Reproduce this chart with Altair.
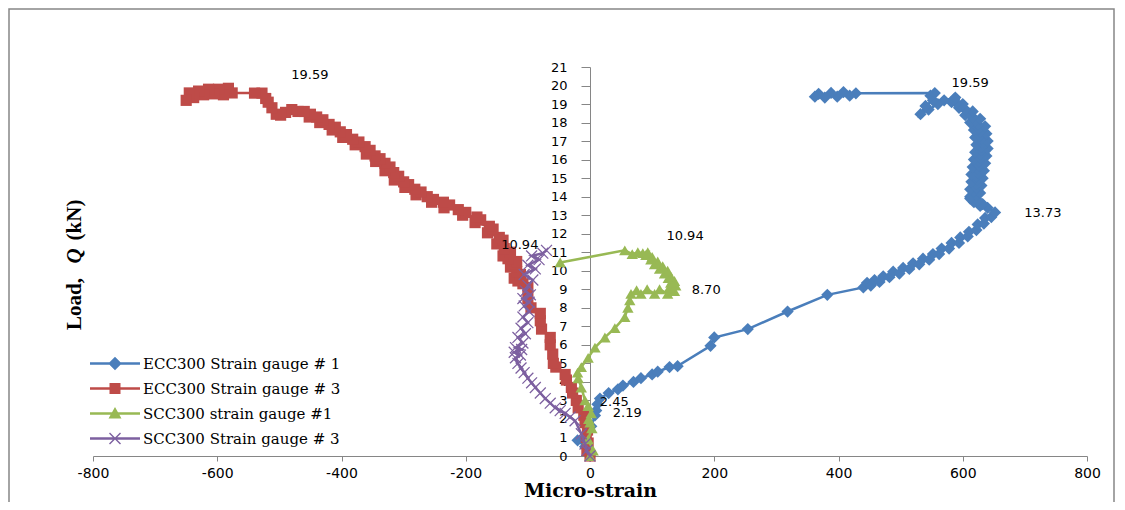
import altair as alt
import pandas as pd

# ---------------- data ----------------
series_names = ["ECC300 Strain gauge # 1", "ECC300 Strain gauge # 3",
                "SCC300 strain gauge #1", "SCC300 Strain gauge # 3"]
line_colors = ["#4A7EBB", "#BE4B48", "#98B954", "#7D60A0"]

# ECC300 strain gauge #1 (blue diamonds)
blue_x = [0, -8, -20, 2, 8, 10, 12, 16, 30, 45, 53, 70, 82, 100, 109, 128, 141, 194, 200, 254, 318, 382,
          440, 446, 452, 458, 466, 472, 482, 488, 498, 504, 514, 520, 530, 536, 546, 552, 562, 566, 578, 582,
          594, 596, 608, 610, 622, 624, 634, 636, 646, 652,
          640, 628, 632, 618, 624, 612, 612, 622, 628, 618, 612, 622, 630, 622, 614, 624, 632, 622, 614, 624,
          634, 624, 616, 626, 636, 626, 618, 628, 638, 628, 620, 630, 640, 630, 622, 632, 640, 630, 620, 628,
          638, 628, 618, 626, 636, 624, 612, 620, 628, 616, 604, 610, 616, 604, 594, 598, 600, 590, 582, 586,
          588, 570, 560, 545, 532, 540, 552, 548, 555,
          428, 418, 408, 398, 388, 378, 368, 362]
blue_y = [0, 0.5, 0.85, 1.6, 2.19, 2.45, 2.8, 3.1, 3.4, 3.6, 3.8, 4.0, 4.2, 4.4, 4.55, 4.8, 4.85, 5.95, 6.4, 6.85, 7.8, 8.7,
          9.1, 9.35, 9.2, 9.5, 9.4, 9.7, 9.65, 9.95, 9.85, 10.15, 10.1, 10.4, 10.35, 10.65, 10.6, 10.9, 10.9, 11.2, 11.2, 11.5,
          11.5, 11.8, 11.85, 12.1, 12.2, 12.5, 12.55, 12.85, 12.9, 13.15,
          13.4, 13.5, 13.6, 13.7, 13.8, 13.9, 14.0, 14.1, 14.2, 14.3, 14.4, 14.5, 14.6, 14.7, 14.8, 14.9, 15.0, 15.1, 15.2, 15.3,
          15.4, 15.5, 15.6, 15.7, 15.8, 15.9, 16.0, 16.1, 16.2, 16.3, 16.4, 16.5, 16.6, 16.7, 16.8, 16.9, 17.0, 17.1, 17.2, 17.3,
          17.4, 17.5, 17.6, 17.7, 17.8, 17.9, 18.0, 18.1, 18.2, 18.3, 18.4, 18.5, 18.6, 18.7, 18.8, 18.9, 19.0, 19.05, 19.1, 19.25,
          19.35, 19.2, 19.0, 18.7, 18.45, 18.9, 19.2, 19.45, 19.59,
          19.58, 19.45, 19.65, 19.4, 19.6, 19.35, 19.55, 19.4]

# ECC300 strain gauge #3 (red squares)
red_x = [0, -5, -3, -6, -4, -8, -10, -19, -22, -28, -30, -38, -40, -55, -59, -60, -64, -64, -78, -80, -80, -95, -100,
         -100, -108, -116, -122, -112, -118, -128, -120, -118, -132, -140, -128, -138, -150, -140, -146, -165, -156, -162,
         -185, -176, -182, -205, -200, -212, -235, -226, -236, -255, -252, -262, -280, -272, -282, -298, -292, -300,
         -315, -308, -316, -330, -322, -330, -345, -338, -346, -360, -354, -362, -378, -372, -382, -398, -392, -402,
         -415, -410, -420, -435, -430, -440, -452, -450, -460, -470, -480, -490, -498, -505, -512, -518, -522, -528, -540,
         -576, -582, -590, -598, -606, -614, -622, -630, -638, -645, -650]
red_y = [0, 0.3, 0.7, 1.0, 1.4, 1.8, 2.2, 2.6, 3.0, 3.4, 3.7, 4.1, 4.4, 4.8, 5.0, 5.5, 6.0, 6.4, 6.85, 7.3, 7.7, 8.0, 8.5,
         9.1, 9.3, 9.45, 9.6, 9.8, 9.95, 10.2, 10.35, 10.5, 10.65, 10.8, 11.0, 11.2, 11.45, 11.65, 11.8, 12.05, 12.25, 12.4,
         12.6, 12.75, 12.9, 13.0, 13.15, 13.3, 13.4, 13.55, 13.7, 13.7, 13.85, 14.0, 14.1, 14.25, 14.4, 14.5, 14.65, 14.8,
         14.9, 15.1, 15.3, 15.4, 15.6, 15.8, 15.9, 16.05, 16.2, 16.3, 16.5, 16.7, 16.8, 16.95, 17.1, 17.2, 17.35, 17.5,
         17.6, 17.75, 17.9, 18.0, 18.15, 18.3, 18.3, 18.45, 18.6, 18.6, 18.7, 18.55, 18.4, 18.45, 18.8, 19.1, 19.3, 19.59, 19.59,
         19.6, 19.85, 19.5, 19.8, 19.55, 19.8, 19.5, 19.7, 19.35, 19.6, 19.2]

# SCC300 strain gauge #1 (green triangles)
green_x = [0, 5, -3, 3, 0, -2, 2, -3, -8, -14, -19, -20, -14, -3, 8, 24, 40, 56, 61, 64,
           66, 75, 82, 92, 104, 112, 125, 136, 128, 138, 130, 136, 126, 130, 120, 125, 112, 117, 104, 109,
           98, 100, 90, 93, 85, 77, 68, 56, -48]
green_y = [0, 0.3, 0.9, 1.5, 1.8, 2.0, 2.3, 2.7, 3.0, 3.7, 4.2, 4.5, 4.8, 5.3, 5.85, 6.4, 6.9, 7.5, 8.0, 8.4,
           8.75, 8.95, 8.75, 9.0, 8.75, 9.0, 8.75, 8.9, 9.1, 9.2, 9.35, 9.45, 9.6, 9.7, 9.85, 10.0, 10.1, 10.25, 10.35, 10.5,
           10.6, 10.75, 10.85, 11.0, 10.95, 11.0, 10.9, 11.1, 10.45]

# SCC300 strain gauge #3 (purple crosses)
purple_x = [0, -5, -8, -14, -24, -32, -40, -48, -56, -64, -72, -80, -88, -94, -100, -106, -111, -116, -120, -112,
            -122, -110, -120, -108, -116, -104, -111, -100, -108, -98, -106, -98, -108, -96, -104, -100, -92, -106,
            -88, -100, -82, -94, -76, -70]
purple_y = [0, 0.3, 0.65, 1.2, 1.9, 2.1, 2.3, 2.45, 2.6, 2.85, 3.1, 3.4, 3.7, 3.95, 4.2, 4.5, 4.75, 5.0, 5.3, 5.45,
            5.6, 5.75, 5.85, 6.1, 6.4, 6.6, 6.9, 7.2, 7.5, 7.8, 8.1, 8.3, 8.5, 8.7, 8.9, 9.2, 9.5, 9.8,
            10.1, 10.3, 10.6, 10.8, 10.95, 11.1]

# data labels
label_text = ["19.59", "19.59", "13.73", "10.94", "8.70", "10.94", "2.45", "2.19"]
label_x = [-451, 612, 729, 153, 187, -113, 39, 60]
label_y = [20.57, 20.14, 13.12, 11.88, 8.96, 11.4, 2.92, 2.32]

x_ticks = [-800, -600, -400, -200, 0, 200, 400, 600, 800]
y_ticks = list(range(0, 22))

# ---------------- styling ----------------
W, H = 994, 389
X_PATH = "M-1,-0.85L-0.85,-1L0,-0.15L0.85,-1L1,-0.85L0.15,0L1,0.85L0.85,1L0,0.15L-0.85,1L-1,0.85L-0.15,0Z"
marker_shapes = ["diamond", "square", "triangle-up", X_PATH]
marker_sizes = [150, 125, 130, 140]

LINE = "M-1,-0.05H1V0.05H-1Z"
legend_paths = [
    LINE + "M0,-0.27L0.27,0L0,0.27L-0.27,0Z",
    LINE + "M-0.22,-0.22H0.22V0.22H-0.22Z",
    LINE + "M0,-0.26L0.26,0.2H-0.26Z",
    LINE + "M-0.24,-0.2L-0.2,-0.24L0,-0.04L0.2,-0.24L0.24,-0.2L0.04,0L0.24,0.2L0.2,0.24L0,0.04L-0.2,0.24L-0.24,0.2L-0.04,0Z",
]

x_enc = alt.X("x:Q", scale=alt.Scale(domain=[-800, 800], nice=False),
              axis=alt.Axis(values=x_ticks, title="Micro-strain", grid=False, tickSize=5, labelPadding=5,
                            labelExpr="'' + datum.value",
                            domainColor="#868686", tickColor="#868686", labelFont="DejaVu Sans",
                            labelFontSize=14, labelColor="black", labelFlush=False,
                            titleFont="DejaVu Serif", titleFontWeight="bold", titleFontSize=19,
                            titleColor="black", titlePadding=1))
y_enc = alt.Y("y:Q", scale=alt.Scale(domain=[0, 21], nice=False),
              axis=alt.Axis(values=y_ticks, title=None, grid=False, offset=-W / 2, tickSize=9,
                            labelPadding=14, domainColor="#868686", tickColor="#868686",
                            labelFont="DejaVu Sans", labelFontSize=13, labelColor="black"))

series_data = [(blue_x, blue_y), (red_x, red_y), (green_x, green_y), (purple_x, purple_y)]

layers = []

# outer chart frame
frame = alt.Chart(pd.DataFrame({"k": [0]})).mark_rect(
    fillOpacity=0, stroke="#868686", strokeWidth=1.5
).encode(x=alt.value(-84), x2=alt.value(W + 27), y=alt.value(-58), y2=alt.value(H + 80))
layers.append(frame)

for name, (xs, ys), col, shp, sz in zip(series_names, series_data, line_colors, marker_shapes, marker_sizes):
    df = pd.DataFrame({"x": xs, "y": ys, "idx": list(range(len(xs)))})
    base = alt.Chart(df)
    layers.append(base.mark_line(color=col, strokeWidth=2.5).encode(
        x=x_enc, y=y_enc, order=alt.Order("idx:Q")))
    layers.append(base.mark_point(filled=True, shape=shp, size=sz, color=col, opacity=1, strokeWidth=0).encode(
        x=x_enc, y=y_enc))

lab_df = pd.DataFrame({"x": label_x, "y": label_y, "t": label_text})
layers.append(alt.Chart(lab_df).mark_text(font="DejaVu Sans", fontSize=13, color="black").encode(
    x=x_enc, y=y_enc, text="t:N"))

# legend (scale-driven, no data marks)
leg_df = pd.DataFrame({"series": series_names, "x": [0] * 4, "y": [0] * 4})
leg = alt.Legend(orient="none", legendX=-3, legendY=284, title=None, labelFont="DejaVu Serif",
                 labelFontSize=15, labelColor="black", symbolSize=2500, rowPadding=0, clipHeight=25,
                 labelOffset=3, labelLimit=400, symbolStrokeWidth=0, symbolOpacity=1)
layers.append(alt.Chart(leg_df).mark_point(filled=True, opacity=1).encode(
    x=x_enc, y=y_enc,
    color=alt.Color("series:N", scale=alt.Scale(domain=series_names, range=line_colors), legend=leg),
    shape=alt.Shape("series:N", scale=alt.Scale(domain=series_names, range=legend_paths), legend=leg),
).transform_filter("false"))

# y-axis title "Load, Q (kN)"
tdf = pd.DataFrame({"k": [0]})
layers.append(alt.Chart(tdf).mark_text(text="Load,", angle=270, font="Liberation Serif", fontWeight="bold",
                                       fontSize=21, color="black", align="center", baseline="middle").encode(
    x=alt.value(-18), y=alt.value(237)))
layers.append(alt.Chart(tdf).mark_text(text="Q", angle=270, font="Liberation Serif", fontWeight="bold",
                                       fontStyle="italic", fontSize=21, color="black", align="center",
                                       baseline="middle").encode(x=alt.value(-18), y=alt.value(189)))
layers.append(alt.Chart(tdf).mark_text(text="(kN)", angle=270, font="Liberation Serif", fontWeight="bold",
                                       fontSize=21, color="black", align="center", baseline="middle").encode(
    x=alt.value(-18), y=alt.value(153)))

chart = alt.layer(*layers).properties(
    width=W, height=H,
    autosize=alt.AutoSizeParams(type="none"),
    padding={"left": 85, "top": 59, "right": 28, "bottom": 46},
    background="white",
).configure_view(stroke=None)

chart.save("out.html", embed_options={"renderer": "svg", "actions": False})
